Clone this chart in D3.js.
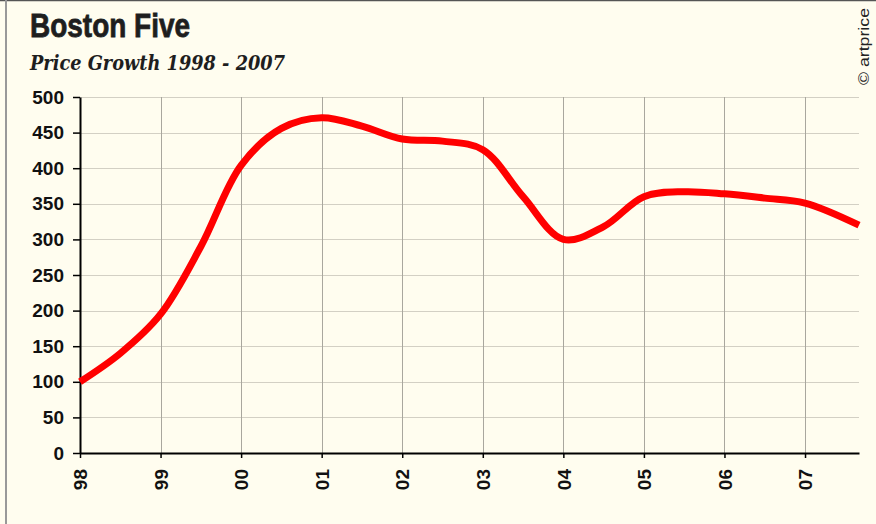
<!DOCTYPE html>
<html>
<head>
<meta charset="utf-8">
<script src="https://cdn.jsdelivr.net/npm/d3@7"></script>
<style>
  body { margin: 0; background: #fffdef; }
  svg { display: block; }
</style>
</head>
<body>
<div id="chart"></div>
<script>
// price index, every half year
var years = [1998, 1998.5, 1999, 1999.5, 2000, 2000.5, 2001, 2001.5, 2002, 2002.5,
             2003, 2003.5, 2004, 2004.5, 2005, 2005.5, 2006, 2006.5, 2007, 2007.67];
var values = [100, 140, 195, 290, 404, 456, 471, 459, 441, 438,
              426, 360, 300, 318, 360, 367, 364, 358, 351, 320];
var tickYears = [1998, 1999, 2000, 2001, 2002, 2003, 2004, 2005, 2006, 2007];
var tickLabels = ["98", "99", "00", "01", "02", "03", "04", "05", "06", "07"];
var yTicks = [0, 50, 100, 150, 200, 250, 300, 350, 400, 450, 500];

var width = 876, height = 524;
var plotLeft = 80, plotRight = 859, plotTop = 97, plotBottom = 453;

var svg = d3.select("#chart").append("svg")
    .attr("width", width)
    .attr("height", height);

svg.append("rect").attr("width", width).attr("height", height).attr("fill", "#fffdef");
// frame: only top and left edges show
svg.append("line").attr("x1", 0).attr("x2", width).attr("y1", 0.5).attr("y2", 0.5)
    .attr("stroke", "#555").attr("stroke-width", 1.5);
svg.append("line").attr("x1", 6).attr("x2", 6).attr("y1", 0).attr("y2", height)
    .attr("stroke", "#999").attr("stroke-width", 2);

var x = d3.scaleLinear().domain([1998, 2007.67]).range([plotLeft, plotRight]);
var y = d3.scaleLinear().domain([0, 500]).range([plotBottom, plotTop]);

// grid
svg.append("g").selectAll("line").data(yTicks.slice(1)).enter().append("line")
    .attr("x1", plotLeft).attr("x2", plotRight)
    .attr("y1", function (d) { return Math.round(y(d)) + 0.5; })
    .attr("y2", function (d) { return Math.round(y(d)) + 0.5; })
    .attr("stroke", "#d3d0c4").attr("stroke-width", 1);
svg.append("g").selectAll("line").data(tickYears.slice(1)).enter().append("line")
    .attr("x1", function (d) { return Math.round(x(d)) + 0.5; })
    .attr("x2", function (d) { return Math.round(x(d)) + 0.5; })
    .attr("y1", plotTop).attr("y2", plotBottom)
    .attr("stroke", "#a9a79e").attr("stroke-width", 1);

// y axis
var yAxis = svg.append("g")
    .attr("transform", "translate(" + plotLeft + ",0)")
    .call(d3.axisLeft(y).tickValues(yTicks).tickSize(7).tickSizeOuter(0).tickPadding(9));
// x axis
var xAxis = svg.append("g")
    .attr("transform", "translate(0," + plotBottom + ")")
    .call(d3.axisBottom(x).tickValues(tickYears).tickSize(5).tickSizeOuter(0)
        .tickFormat(function (d, i) { return tickLabels[i]; }));

[yAxis, xAxis].forEach(function (ax) {
    ax.select(".domain").attr("stroke", "#000").attr("stroke-width", 2);
    ax.selectAll(".tick line").attr("stroke", "#000").attr("stroke-width", 1.5);
    ax.selectAll("text")
        .style("font-family", "'Liberation Sans', Arial, sans-serif")
        .style("font-weight", "bold")
        .style("font-size", "19px")
        .attr("fill", "#111");
});
xAxis.selectAll(".tick text")
    .attr("transform", "rotate(-90)")
    .attr("x", -16).attr("y", 0).attr("dy", "0.35em")
    .style("text-anchor", "end");

// the curve
var line = d3.line()
    .x(function (d, i) { return x(years[i]); })
    .y(function (d) { return y(d); })
    .curve(d3.curveCatmullRom.alpha(0.5));
svg.append("path")
    .datum(values)
    .attr("d", line)
    .attr("fill", "none")
    .attr("stroke", "#ff0000")
    .attr("stroke-width", 7)
    .attr("stroke-linejoin", "round");

// titles
svg.append("text")
    .attr("x", 30).attr("y", 37)
    .attr("textLength", 160).attr("lengthAdjust", "spacingAndGlyphs")
    .style("font-family", "'Liberation Sans Narrow', 'Liberation Sans', Arial, sans-serif")
    .style("font-weight", "bold").style("font-size", "34px")
    .attr("fill", "#1e1e1e").attr("stroke", "#1e1e1e").attr("stroke-width", 0.8)
    .text("Boston Five");
svg.append("text")
    .attr("x", 30).attr("y", 70)
    .attr("textLength", 255).attr("lengthAdjust", "spacingAndGlyphs")
    .style("font-family", "'DejaVu Serif', 'Liberation Serif', serif")
    .style("font-weight", "bold").style("font-style", "italic").style("font-size", "20px")
    .attr("fill", "#1e1e1e")
    .text("Price Growth 1998 - 2007");
svg.append("text")
    .attr("transform", "translate(869,8) rotate(-90)")
    .attr("textLength", 77).attr("lengthAdjust", "spacingAndGlyphs")
    .style("font-family", "'Liberation Sans', Arial, sans-serif")
    .style("font-size", "15px").style("text-anchor", "end")
    .attr("fill", "#222")
    .text("© artprice");
</script>
</body>
</html>
